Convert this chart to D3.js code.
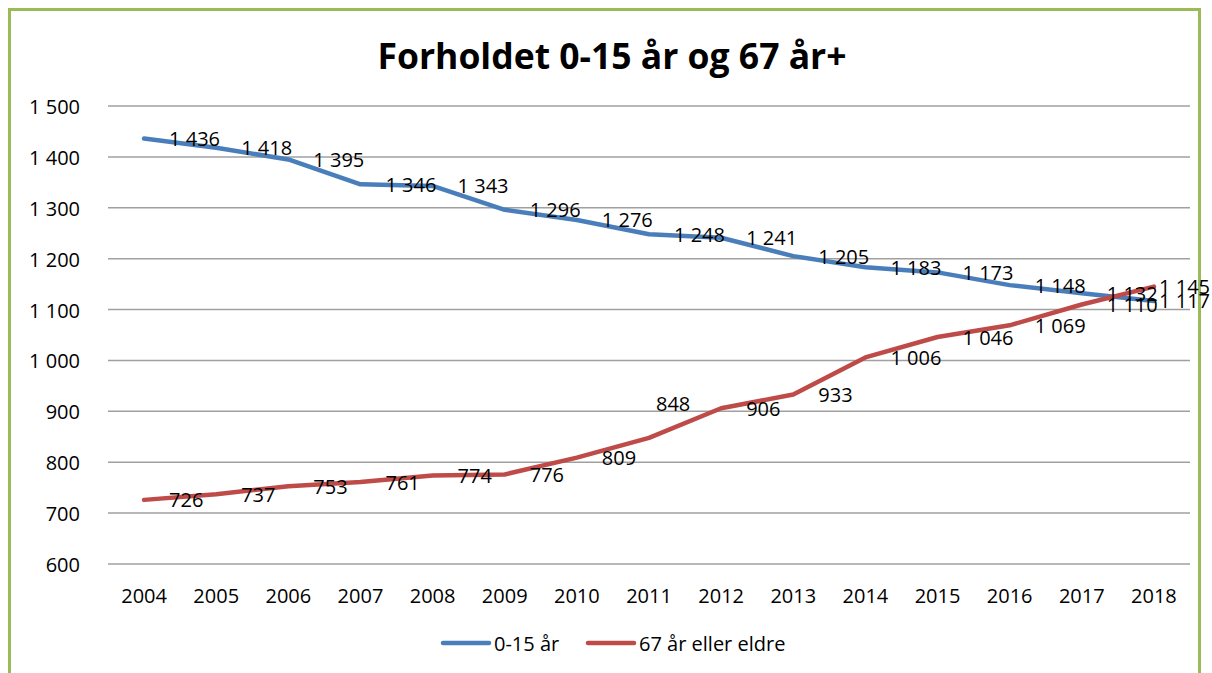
<!DOCTYPE html>
<html>
<head>
<meta charset="utf-8">
<script src="https://cdn.jsdelivr.net/npm/d3@7"></script>
<style>
  html, body { margin: 0; padding: 0; background: #ffffff; }
  svg { display: block; }
  text { font-family: "Open Sans", "DejaVu Sans", sans-serif; fill: #000; }
</style>
</head>
<body>
<svg id="chart" width="1212" height="673"></svg>
<script>
// ---- data ----
const title = "Forholdet 0-15 år og 67 år+";
const years = ["2004","2005","2006","2007","2008","2009","2010","2011","2012","2013","2014","2015","2016","2017","2018"];
const seriesNames = ["0-15 år", "67 år eller eldre"];
const young = [1436,1418,1395,1346,1343,1296,1276,1248,1241,1205,1183,1173,1148,1132,1117];
const old   = [726,737,753,761,774,776,809,848,906,933,1006,1046,1069,1110,1145];
const yTicks = [600,700,800,900,1000,1100,1200,1300,1400,1500];

const colors = ["#4A7EBB", "#BE4B48"];
const fmt = v => d3.format(",")(v).replace(/,/g, " ");
const FS = "20px";

const svg = d3.select("#chart");

// frame
svg.append("rect")
  .attr("x", 9.5).attr("y", 9.5).attr("width", 1190).attr("height", 700)
  .attr("fill", "none").attr("stroke", "#9BBB59").attr("stroke-width", 3);

const x = d3.scaleBand().domain(years).range([108, 1190]).padding(0);
const y = d3.scaleLinear().domain([600, 1500]).range([564, 106]);
const cx = d => x(d) + x.bandwidth() / 2;

// title
svg.append("text")
  .attr("x", 612).attr("y", 55)
  .attr("text-anchor", "middle").attr("dominant-baseline", "central")
  .style("font-weight", "bold").style("font-size", "35.5px")
  .text(title);

// gridlines
svg.append("g").selectAll("line").data(yTicks).join("line")
  .attr("x1", 108).attr("x2", 1190)
  .attr("y1", d => y(d)).attr("y2", d => y(d))
  .attr("stroke", "#A0A0A0").attr("stroke-width", 1.5);

// y axis (labels only)
const yAxis = d3.axisLeft(y).tickValues(yTicks).tickFormat(fmt).tickSize(0).tickPadding(0);
const gy = svg.append("g").attr("transform", "translate(80,0)").call(yAxis);
gy.select(".domain").remove();
gy.selectAll("text").attr("dy", null).attr("dominant-baseline", "central")
  .style("font-size", FS).style("font-family", "'Open Sans', sans-serif").attr("fill", "#000");

// x axis (labels only)
const xAxis = d3.axisBottom(x).tickSize(0).tickPadding(0);
const gx = svg.append("g").attr("transform", "translate(0,595)").call(xAxis);
gx.select(".domain").remove();
gx.selectAll("text").attr("y", 0).attr("dy", null).attr("dominant-baseline", "central")
  .style("font-size", FS).style("font-family", "'Open Sans', sans-serif").attr("fill", "#000");

// lines
const series = [young, old];
const line = d3.line().x((d, i) => cx(years[i])).y(d => y(d));
series.forEach((vals, si) => {
  svg.append("path").datum(vals)
    .attr("d", line)
    .attr("fill", "none").attr("stroke", colors[si]).attr("stroke-width", 4.5)
    .attr("stroke-linejoin", "round").attr("stroke-linecap", "round");
});

// data labels
const nudges = { "1|2011": [-18, -34] };
series.forEach((vals, si) => {
  const g = svg.append("g");
  vals.forEach((v, i) => {
    let tx = cx(years[i]) + 25;
    let ty = y(v);
    const n = nudges[si + "|" + years[i]];
    if (n) { tx += n[0]; ty += n[1]; }
    const t = g.append("text")
      .attr("x", tx).attr("y", ty)
      .attr("dominant-baseline", "central")
      .style("font-size", FS)
      .text(fmt(v));
    const w = t.node().getComputedTextLength();
    if (tx + w > 1210) t.attr("x", 1210 - w);
  });
});

// legend
const legend = [
  { name: seriesNames[0], color: colors[0], x0: 443, x1: 489, tx: 494 },
  { name: seriesNames[1], color: colors[1], x0: 588, x1: 634, tx: 639 }
];
const lg = svg.append("g");
legend.forEach(l => {
  lg.append("line").attr("x1", l.x0).attr("x2", l.x1).attr("y1", 643).attr("y2", 643)
    .attr("stroke", l.color).attr("stroke-width", 4.5).attr("stroke-linecap", "round");
  lg.append("text").attr("x", l.tx).attr("y", 643).attr("dominant-baseline", "central")
    .style("font-size", FS).text(l.name);
});
</script>
</body>
</html>
